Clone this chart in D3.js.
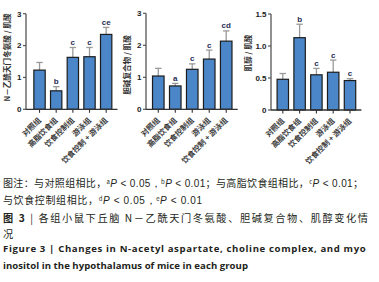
<!DOCTYPE html>
<html><head><meta charset="utf-8">
<script src="https://cdn.jsdelivr.net/npm/d3@7"></script>
<style>
html,body{margin:0;padding:0;background:#fff;}
svg{display:block;}
</style></head>
<body>
<svg id="c" width="379" height="282"></svg>
<script>
// ---------- data ----------
const groups = ["对照组","高脂饮食组","饮食控制组","游泳组","饮食控制 + 游泳组"];
const naaMean = [1.23,0.58,1.63,1.65,2.35];
const naaErr  = [0.24,0.13,0.31,0.29,0.22];
const naaSig  = ["","b","c","c","ce"];
const choMean = [1.04,0.73,1.25,1.57,2.13];
const choErr  = [0.24,0.08,0.17,0.28,0.32];
const choSig  = ["","a","c","c","cd"];
const miMean  = [0.48,1.13,0.55,0.59,0.46];
const miErr   = [0.09,0.21,0.10,0.19,0.03];
const miSig   = ["","b","c","c","c"];
const ticksA = [0,1,2,3];
const ticksALabels = ["0","1","2","3"];
const ticksB = [0,0.5,1.0,1.5];
const ticksBLabels = ["0","0.5","1.0","1.5"];
const titles = ["N－乙酰天门冬氨酸 / 肌酸","胆碱复合物 / 肌酸","肌醇 / 肌酸"];
const noteLine1 = [{t:"图注：与对照组相比，"},{t:"a",sup:1},{t:"P",it:1},{t:" < 0.05，",lat:1},{t:"b",sup:1},{t:"P",it:1},{t:" < 0.01",lat:1},
  {t:"；与高脂饮食组相比，"},{t:"c",sup:1},{t:"P",it:1},{t:" < 0.01",lat:1},{t:"；"}];
const noteLine2 = [{t:"与饮食控制组相比，"},{t:"d",sup:1},{t:"P",it:1},{t:" < 0.05，",lat:1},{t:"e",sup:1},{t:"P",it:1},{t:" < 0.01",lat:1}];
const capCn1 = [{t:"图 3",b:1},{t:" | 各组小鼠下丘脑 N－乙酰天门冬氨酸、胆碱复合物、肌醇变化情"}];
const capCn2 = [{t:"况"}];
const capEn1 = [{t:"Figure 3  |  Changes in N-acetyl aspartate, choline complex, and myo",en:1}];
const capEn2 = [{t:"inositol in the hypothalamus of mice in each group",en:1}];

// ---------- layout ----------
const panels = [
  {mean:naaMean, err:naaErr, sig:naaSig, ticks:ticksA, tl:ticksALabels, max:3, title:titles[0],
   ax:26, xr:[31.2,114.5], yr:[109.3,13.7], tx:7, ty:57.5},
  {mean:choMean, err:choErr, sig:choSig, ticks:ticksA, tl:ticksALabels, max:3, title:titles[1],
   ax:146, xr:[149.8,234.7], yr:[109.3,13.3], tx:127.5, ty:65},
  {mean:miMean, err:miErr, sig:miSig, ticks:ticksB, tl:ticksBLabels, max:1.5, title:titles[2],
   ax:271, xr:[274.4,358.4], yr:[110,14], tx:248, ty:53}
];

const svg = d3.select("#c");
const cjk = "'Noto Sans CJK SC','Noto Sans',sans-serif";
const lat = "'Liberation Sans',Arial,sans-serif";
const en = "'Open Sans',sans-serif";

panels.forEach(p => {
  const x = d3.scaleBand().domain(groups).range(p.xr).paddingInner(0.32).paddingOuter(0.16);
  const y = d3.scaleLinear().domain([0,p.max]).range(p.yr);
  const g = svg.append("g");
  const base = y(0);
  const data = groups.map((k,i)=>({k, m:p.mean[i], e:p.err[i], s:p.sig[i]}));
  const cx = d => x(d.k)+x.bandwidth()/2;

  g.selectAll(".eb").data(data).join("line")
    .attr("x1", cx).attr("x2", cx)
    .attr("y1", d=>y(d.m)).attr("y2", d=>y(d.m+d.e))
    .attr("stroke","#9a9a9a").attr("stroke-width",1.3);
  g.selectAll(".cap").data(data).join("line")
    .attr("x1", d=>cx(d)-3.2).attr("x2", d=>cx(d)+3.2)
    .attr("y1", d=>y(d.m+d.e)).attr("y2", d=>y(d.m+d.e))
    .attr("stroke","#9a9a9a").attr("stroke-width",1.3);
  g.selectAll(".bar").data(data).join("rect")
    .attr("x", d=>x(d.k)).attr("width", x.bandwidth())
    .attr("y", d=>y(d.m)).attr("height", d=>base-y(d.m))
    .attr("fill","#4a86c8").attr("stroke","#1c1c1c").attr("stroke-width",1.2);
  g.selectAll(".sig").data(data).join("text")
    .attr("x", cx).attr("y", d=>y(d.m+d.e)-2.5)
    .attr("text-anchor","middle").attr("font-family",lat).attr("font-weight","bold")
    .attr("font-size",8).attr("fill","#1f2d55").text(d=>d.s);

  g.append("line").attr("x1",p.ax).attr("x2",p.ax).attr("y1",base).attr("y2",y(p.max))
    .attr("stroke","#555").attr("stroke-width",1.3);
  g.selectAll(".yt").data(p.ticks).join("line")
    .attr("x1",p.ax-3).attr("x2",p.ax).attr("y1",d=>y(d)).attr("y2",d=>y(d))
    .attr("stroke","#555").attr("stroke-width",1.2);
  g.selectAll(".yl").data(p.ticks).join("text")
    .attr("x",p.ax-4.5).attr("y",d=>y(d)).attr("dy","0.35em")
    .attr("text-anchor","end").attr("font-family",lat).attr("font-weight","bold")
    .attr("font-size",8).attr("fill","#222").text((d,i)=>p.tl[i]);
  g.append("line").attr("x1",p.ax).attr("x2",p.xr[1]+3).attr("y1",base).attr("y2",base)
    .attr("stroke","#333").attr("stroke-width",1.3);
  g.selectAll(".xt").data(groups).join("line")
    .attr("x1",d=>x(d)+x.bandwidth()/2).attr("x2",d=>x(d)+x.bandwidth()/2)
    .attr("y1",base).attr("y2",base+3.5).attr("stroke","#333").attr("stroke-width",1.1);
  g.selectAll(".xl").data(groups).join("text")
    .attr("transform",d=>`translate(${x(d)+x.bandwidth()/2+2},${base+11.5}) rotate(-45)`)
    .attr("text-anchor","end").attr("font-family",cjk).attr("font-weight","bold")
    .attr("font-size",7.6).attr("fill","#3a3a3a").text(d=>d);
  g.append("text").attr("transform",`translate(${p.tx},${p.ty}) rotate(-90)`)
    .attr("text-anchor","middle").attr("dy","0.35em").attr("font-family",cjk).attr("font-weight","bold")
    .attr("font-size",7.6).attr("fill","#333").text(p.title);
});

// ---------- captions ----------
function fit(sel, w){
  const n = sel.text().length;
  const L = sel.node().getComputedTextLength();
  sel.attr("letter-spacing", ((w-L)/Math.max(1,n-1)).toFixed(3));
}
function cap(yy, parts, size, w, weight){
  const t = svg.append("text").attr("x",3).attr("y",yy).attr("font-family",cjk)
    .attr("font-size",size).attr("fill","#231f20").attr("font-weight",weight||"normal");
  parts.forEach(pt=>{
    const s = t.append("tspan").text(pt.t);
    if(pt.sup){ s.attr("font-size",size*0.6).attr("dy",-3.5); }
    if(pt.it){ s.attr("font-style","italic").attr("font-family",lat).attr("dy",3.5); }
    if(pt.b){ s.attr("font-weight","bold"); }
    if(pt.lat){ s.attr("font-family",lat); }
    if(pt.en){ s.attr("font-family",en); }
  });
  if(w) fit(t,w);
  return t;
}
cap(187, noteLine1, 10, 360);
cap(204, noteLine2, 10, 199);
cap(222, capCn1, 10.2, 365);
cap(237.5, capCn2, 10.2, 0);
cap(252, capEn1, 9.6, 364, "bold");
cap(268.5, capEn2, 9.6, 245, "bold");
</script>
</body></html>
